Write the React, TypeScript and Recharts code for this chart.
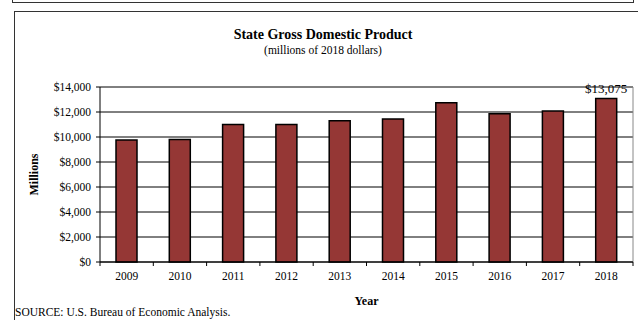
import React from "react";
import {
  BarChart,
  Bar,
  XAxis,
  YAxis,
  CartesianGrid,
  LabelList,
} from "recharts";

const years = ["2009", "2010", "2011", "2012", "2013", "2014", "2015", "2016", "2017", "2018"];
const gdp = [9760, 9810, 11010, 11000, 11300, 11440, 12750, 11870, 12080, 13075];
const yTicks = [0, 2000, 4000, 6000, 8000, 10000, 12000, 14000];

const W = 638;
const H = 320;
const margin = { top: 87, right: 5, left: 0, bottom: 28 };
const yAxisWidth = 100;
const band = (W - margin.left - margin.right - yAxisWidth) / years.length;
const font = "'Liberation Serif', 'Times New Roman', serif";

const data = years.map((year, i) => ({ year, value: gdp[i] }));

const money = (v: number) => "$" + v.toLocaleString("en-US");

const YearTick = (props: any) => {
  const { x, y, payload, index } = props;
  return (
    <g>
      {index === 0 && (
        <line x1={x - band / 2} x2={x - band / 2} y1={y} y2={y + 4} stroke="#000" />
      )}
      <line x1={x + band / 2} x2={x + band / 2} y1={y} y2={y + 4} stroke="#000" />
      <text x={x} y={y + 10} dy="0.71em" textAnchor="middle" fontSize={11.5} fill="#000">
        {payload.value}
      </text>
    </g>
  );
};

const TopLabel = (props: any) => {
  const { x, y, width, value, index } = props;
  if (index !== gdp.length - 1) return null;
  return (
    <text x={x + width / 2} y={y - 6} textAnchor="middle" fontSize={13} fill="#000">
      {money(value)}
    </text>
  );
};

const App = () => {
  return (
    <div style={{ position: "absolute", left: 0, top: 0, width: W, height: H, overflow: "hidden", background: "#fff", fontFamily: font }}>
      {/* edge of the box above */}
      <div style={{ position: "absolute", left: 12, top: -10, width: 620, height: 12, borderLeft: "1.5px solid #333", borderRight: "1.5px solid #333", borderBottom: "1.5px solid #333" }} />
      {/* chart frame */}
      <div style={{ position: "absolute", left: 14, top: 11, width: 700, height: 400, borderLeft: "1.5px solid #333", borderTop: "1.5px solid #333" }} />
      <div style={{ position: "absolute", left: 0, width: W, top: 27, textAlign: "center", paddingLeft: 8, boxSizing: "border-box" }}>
        <div style={{ fontWeight: "bold", fontSize: 14, lineHeight: "16px" }}>State Gross Domestic Product</div>
        <div style={{ fontSize: 11.5, lineHeight: "14px" }}>(millions of 2018 dollars)</div>
      </div>
      <div style={{ position: "absolute", left: 15, top: 306, fontSize: 11.5 }}>SOURCE: U.S. Bureau of Economic Analysis.</div>
      <div style={{ position: "absolute", left: 0, top: 0 }}>
        <BarChart width={W} height={H} data={data} margin={margin} style={{ fontFamily: font }}>
          <CartesianGrid stroke="#000" vertical={false} />
          <CartesianGrid
            stroke="#888"
            horizontal={false}
            verticalCoordinatesGenerator={({ offset }: any) => [offset.left + offset.width]}
          />
          <XAxis
            dataKey="year"
            height={30}
            axisLine={{ stroke: "#000" }}
            tickLine={false}
            tickSize={0}
            tickMargin={0}
            tick={<YearTick />}
            interval={0}
            label={{ value: "Year", position: "bottom", offset: 4, fontWeight: "bold", fontSize: 12, fill: "#000" }}
          />
          <YAxis
            width={yAxisWidth}
            domain={[0, 14000]}
            ticks={yTicks}
            tickFormatter={money}
            axisLine={{ stroke: "#000" }}
            tickLine={{ stroke: "#000" }}
            tickSize={4}
            tickMargin={5}
            tick={{ fontSize: 11.5, fill: "#000" }}
            label={{ value: "Millions", angle: -90, position: "center", dx: -16, fontWeight: "bold", fontSize: 12, fill: "#000" }}
          />
          <Bar dataKey="value" fill="#953735" stroke="#000" strokeWidth={1.5} barSize={21} isAnimationActive={false}>
            <LabelList dataKey="value" content={<TopLabel />} />
          </Bar>
        </BarChart>
      </div>
    </div>
  );
};

export default App;
